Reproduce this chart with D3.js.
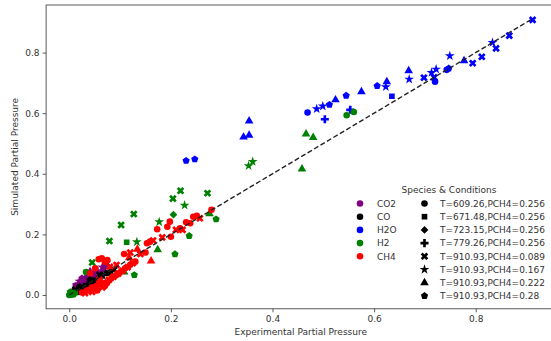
<!DOCTYPE html>
<html>
<head>
<meta charset="utf-8">
<script src="https://cdn.jsdelivr.net/npm/d3@7"></script>
<style>
  body { margin: 0; background: #fff; }
  svg { font-family: "DejaVu Sans", sans-serif; }
</style>
</head>
<body>
<div id="chart"></div>
<script>
// species and conditions
const species = ['CO2', 'CO', 'H2O', 'H2', 'CH4'];
const speciesColors = ['purple', 'black', 'blue', 'green', 'red'];
const conditions = [
  'T=609.26,PCH4=0.256', 'T=671.48,PCH4=0.256', 'T=723.15,PCH4=0.256', 'T=779.26,PCH4=0.256',
  'T=910.93,PCH4=0.089', 'T=910.93,PCH4=0.167', 'T=910.93,PCH4=0.222', 'T=910.93,PCH4=0.28'
];
const xTicks = [0.0, 0.2, 0.4, 0.6, 0.8];
const yTicks = [0.0, 0.2, 0.4, 0.6, 0.8];

// [experimental, simulated, condition index]
const co2Points = [
  [0.010, 0.015, 0], [0.012, 0.030, 1], [0.015, 0.020, 2], [0.018, 0.038, 3], [0.020, 0.030, 4],
  [0.020, 0.045, 5], [0.025, 0.040, 6], [0.025, 0.055, 7], [0.028, 0.050, 0], [0.030, 0.035, 1],
  [0.030, 0.050, 2], [0.035, 0.055, 3], [0.035, 0.068, 4], [0.040, 0.062, 5], [0.041, 0.077, 6],
  [0.045, 0.048, 7], [0.045, 0.070, 0], [0.050, 0.058, 1], [0.050, 0.075, 2], [0.055, 0.080, 3],
  [0.060, 0.070, 4], [0.065, 0.092, 5], [0.067, 0.083, 6], [0.070, 0.095, 7], [0.074, 0.105, 4]
];
const coPoints = [
  [0.003, 0.002, 0], [0.006, 0.005, 1], [0.008, 0.012, 2], [0.010, 0.008, 3], [0.012, 0.018, 4],
  [0.014, 0.012, 5], [0.016, 0.008, 6], [0.018, 0.015, 7], [0.020, 0.027, 0], [0.022, 0.020, 1],
  [0.026, 0.022, 2], [0.030, 0.027, 3], [0.030, 0.020, 4], [0.035, 0.032, 5], [0.040, 0.038, 6],
  [0.041, 0.050, 7], [0.045, 0.043, 0], [0.050, 0.048, 1], [0.055, 0.050, 2], [0.060, 0.058, 3],
  [0.060, 0.066, 4], [0.066, 0.064, 5], [0.072, 0.070, 6], [0.080, 0.075, 7], [0.088, 0.083, 4]
];
const h2oPoints = [
  [0.469, 0.602, 0], [0.487, 0.614, 5], [0.499, 0.623, 5], [0.512, 0.628, 7], [0.524, 0.644, 6],
  [0.503, 0.580, 3], [0.545, 0.658, 7], [0.553, 0.611, 3], [0.575, 0.671, 6], [0.606, 0.690, 7],
  [0.625, 0.704, 6], [0.623, 0.687, 5], [0.635, 0.656, 1], [0.668, 0.740, 6], [0.669, 0.712, 5],
  [0.698, 0.717, 4], [0.713, 0.734, 5], [0.722, 0.745, 5], [0.720, 0.704, 0], [0.718, 0.718, 4],
  [0.743, 0.743, 0], [0.747, 0.748, 7], [0.749, 0.789, 5], [0.777, 0.773, 6], [0.794, 0.765, 4],
  [0.812, 0.786, 4], [0.833, 0.833, 5], [0.840, 0.814, 4], [0.866, 0.856, 4], [0.912, 0.908, 4],
  [0.354, 0.574, 6], [0.343, 0.521, 6], [0.354, 0.527, 6], [0.230, 0.443, 7], [0.247, 0.448, 7]
];
const h2Points = [
  [0.546, 0.593, 0], [0.560, 0.604, 0], [0.466, 0.531, 6], [0.480, 0.520, 6], [0.458, 0.416, 6],
  [0.353, 0.426, 5], [0.361, 0.440, 5], [0.219, 0.344, 4], [0.204, 0.318, 4], [0.272, 0.336, 4],
  [0.227, 0.296, 5], [0.127, 0.267, 4], [0.102, 0.231, 4], [0.177, 0.241, 5], [0.205, 0.265, 2],
  [0.079, 0.178, 4], [0.113, 0.174, 1], [0.133, 0.175, 5], [0.174, 0.149, 6], [0.236, 0.195, 7],
  [0.289, 0.250, 7], [0.208, 0.135, 7], [0.108, 0.076, 6], [0.128, 0.066, 7], [0.045, 0.107, 4],
  [0.033, 0.076, 0], [0.276, 0.268, 6], [0.000, 0.000, 0], [0.004, 0.006, 0], [0.008, 0.002, 0],
  [0.002, 0.010, 7], [0.012, 0.008, 1]
];
const ch4Points = [
  [0.025, 0.008, 0], [0.031, 0.006, 4], [0.035, 0.015, 0], [0.041, 0.017, 4], [0.045, 0.025, 0],
  [0.050, 0.020, 4], [0.054, 0.030, 0], [0.059, 0.050, 4], [0.062, 0.035, 0], [0.068, 0.042, 4],
  [0.074, 0.039, 0], [0.078, 0.050, 4], [0.083, 0.055, 0], [0.087, 0.060, 4], [0.092, 0.065, 0],
  [0.096, 0.070, 4], [0.100, 0.075, 0], [0.105, 0.080, 4], [0.110, 0.088, 0], [0.115, 0.092, 4],
  [0.120, 0.100, 0], [0.125, 0.105, 4], [0.130, 0.110, 0], [0.045, 0.010, 4], [0.055, 0.015, 0],
  [0.065, 0.025, 4], [0.070, 0.030, 0], [0.041, 0.072, 0], [0.051, 0.088, 0], [0.064, 0.121, 0],
  [0.070, 0.110, 0], [0.080, 0.093, 4], [0.093, 0.099, 4], [0.058, 0.118, 0], [0.075, 0.115, 0],
  [0.118, 0.123, 6], [0.134, 0.151, 6], [0.161, 0.112, 6], [0.140, 0.135, 4], [0.150, 0.140, 0],
  [0.153, 0.171, 0], [0.159, 0.176, 0], [0.165, 0.180, 4], [0.173, 0.217, 0], [0.193, 0.225, 0],
  [0.198, 0.242, 0], [0.183, 0.190, 4], [0.200, 0.192, 0], [0.218, 0.220, 0], [0.223, 0.215, 4],
  [0.238, 0.237, 0], [0.244, 0.258, 0], [0.251, 0.261, 0], [0.257, 0.253, 4], [0.280, 0.281, 0],
  [0.108, 0.135, 0], [0.120, 0.140, 4], [0.210, 0.215, 4], [0.230, 0.240, 0]
];
const allSeries = [co2Points, coPoints, h2oPoints, h2Points, ch4Points];

const width = 551, height = 341;
const svg = d3.select('#chart').append('svg')
  .attr('width', width)
  .attr('height', height);

const x = d3.scaleLinear().domain([-0.0456, 0.957]).range([46.1, 555.5]);
const y = d3.scaleLinear().domain([-0.0456, 0.957]).range([308.8, 5]);

// custom pentagon symbol
const symbolPentagon = {
  draw(ctx, size) {
    const r = Math.sqrt(size / (2.5 * Math.sin(2 * Math.PI / 5)));
    for (let i = 0; i < 5; i++) {
      const a = -Math.PI / 2 + i * 2 * Math.PI / 5;
      if (i === 0) ctx.moveTo(r * Math.cos(a), r * Math.sin(a));
      else ctx.lineTo(r * Math.cos(a), r * Math.sin(a));
    }
    ctx.closePath();
  }
};

// marker shape per condition: type, area, rotation
const markers = [
  { type: d3.symbolCircle, size: 34, rot: 0 },
  { type: d3.symbolSquare, size: 32, rot: 0 },
  { type: d3.symbolSquare, size: 30, rot: 45 },
  { type: d3.symbolCross, size: 36, rot: 0 },
  { type: d3.symbolCross, size: 36, rot: 45 },
  { type: d3.symbolStar, size: 30, rot: 0 },
  { type: d3.symbolTriangle, size: 32, rot: 0 },
  { type: symbolPentagon, size: 34, rot: 0 }
];
const markerPath = c => d3.symbol().type(markers[c].type).size(markers[c].size)();

// frame
svg.append('clipPath').attr('id', 'plot-clip')
  .append('rect')
  .attr('x', x.range()[0]).attr('y', y.range()[1])
  .attr('width', x.range()[1] - x.range()[0])
  .attr('height', y.range()[0] - y.range()[1]);

// axes
const xAxis = svg.append('g')
  .attr('transform', `translate(0,${y.range()[0]})`)
  .call(d3.axisBottom(x).tickValues(xTicks).tickFormat(d3.format('.1f')).tickSize(3.5).tickPadding(3));
const yAxis = svg.append('g')
  .attr('transform', `translate(${x.range()[0]},0)`)
  .call(d3.axisLeft(y).tickValues(yTicks).tickFormat(d3.format('.1f')).tickSize(3.5).tickPadding(3));
[xAxis, yAxis].forEach(ax => {
  ax.select('.domain').remove();
  ax.selectAll('line').attr('stroke', '#333').attr('stroke-width', 0.8);
  ax.selectAll('text').attr('fill', '#333').style('font-size', '9px')
    .style('font-family', '"DejaVu Sans", sans-serif');
});

svg.append('rect')
  .attr('x', x.range()[0]).attr('y', y.range()[1])
  .attr('width', x.range()[1] - x.range()[0])
  .attr('height', y.range()[0] - y.range()[1])
  .attr('fill', 'none')
  .attr('stroke', '#333')
  .attr('stroke-width', 0.8);

// axis labels
svg.append('text')
  .attr('x', (x.range()[0] + x.range()[1]) / 2)
  .attr('y', 335)
  .attr('text-anchor', 'middle')
  .attr('fill', '#333')
  .style('font-size', '9px')
  .text('Experimental Partial Pressure');
svg.append('text')
  .attr('transform', `translate(18,${(y.range()[0] + y.range()[1]) / 2}) rotate(-90)`)
  .attr('text-anchor', 'middle')
  .attr('fill', '#333')
  .style('font-size', '9px')
  .text('Simulated Partial Pressure');

// points
const plot = svg.append('g').attr('clip-path', 'url(#plot-clip)');
allSeries.forEach((pts, si) => {
  plot.append('g').selectAll('path')
    .data(pts)
    .join('path')
    .attr('d', d => markerPath(d[2]))
    .attr('transform', d => `translate(${x(d[0])},${y(d[1])}) rotate(${markers[d[2]].rot})`)
    .attr('fill', speciesColors[si]);
});

// 1:1 line
const maxVal = d3.max(allSeries.flat(), d => Math.max(d[0], d[1]));
plot.append('line')
  .attr('x1', x(0)).attr('y1', y(0))
  .attr('x2', x(maxVal)).attr('y2', y(maxVal))
  .attr('stroke', '#222')
  .attr('stroke-width', 1.4)
  .attr('stroke-dasharray', '5,2.5');

// legend
const legend = svg.append('g');
legend.append('rect')
  .attr('x', 352).attr('y', 181).attr('width', 200).attr('height', 122)
  .attr('fill', 'white');
legend.append('text')
  .attr('x', 449).attr('y', 193)
  .attr('text-anchor', 'middle')
  .attr('fill', '#333')
  .style('font-size', '9px')
  .text('Species & Conditions');

const rowY = i => 203.5 + i * 13.2;
species.forEach((s, i) => {
  legend.append('path')
    .attr('d', d3.symbol().type(d3.symbolCircle).size(34)())
    .attr('transform', `translate(360,${rowY(i)})`)
    .attr('fill', speciesColors[i]);
  legend.append('text')
    .attr('x', 377).attr('y', rowY(i) + 3.3)
    .attr('fill', '#333')
    .style('font-size', '9px')
    .text(s);
});
conditions.forEach((c, i) => {
  legend.append('path')
    .attr('d', markerPath(i))
    .attr('transform', `translate(424.5,${rowY(i)}) rotate(${markers[i].rot})`)
    .attr('fill', 'black');
  legend.append('text')
    .attr('x', 440).attr('y', rowY(i) + 3.3)
    .attr('fill', '#333')
    .style('font-size', '9px')
    .text(c);
});
</script>
</body>
</html>
